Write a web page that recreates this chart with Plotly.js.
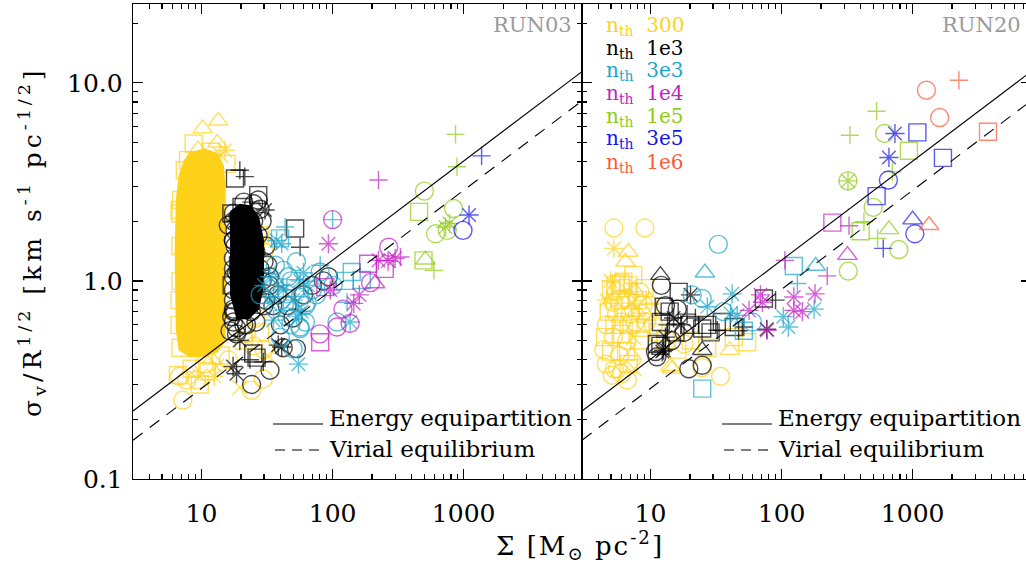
<!DOCTYPE html>
<html><head><meta charset="utf-8">
<script src="https://cdn.plot.ly/plotly-3.0.1.min.js"></script>
<style>html,body{margin:0;padding:0;overflow:hidden;background:#fff}#chart{width:1031px;height:567px}</style>
</head><body><div id="chart"></div><script>
const W = 1031, H = 567;
const FONT = 'DejaVu Serif';

// threshold densities and their colours
const nthLabels = ['300', '1e3', '3e3', '1e4', '1e5', '3e5', '1e6'];
const nthColors = ['#ffd21a', '#000000', '#1aa6cc', '#c41ec4', '#8fcc14', '#1414f0', '#ff5a36'];

// model lines
const lineX = [3, 8000];
const eqY = [0.2205, 11.39];
const virY = [0.157, 8.11];

// ---------- RUN03 (left panel) ----------
// saturated core of the nth=300 cloud (outline of the solid region)
const r03_300_coreX = [8.13, 10.6, 13.3, 14.8, 15.3, 15.3, 13.3, 10.6, 8.13, 6.69, 6.36, 6.24, 6.36, 6.69, 7.32];
const r03_300_coreY = [4.46, 4.68, 4.41, 3.84, 2.87, 0.502, 0.437, 0.412, 0.412, 0.447, 0.564, 1.43, 2.56, 3.42, 4.07];
const r03_300_x = [13.4, 10.2, 8.7, 13.2, 15.1, 9.4, 11.9, 7.9, 7.45, 7.0, 6.8, 15.5, 14.0, 6.9, 6.9, 6.9, 6.8, 6.8, 6.9, 6.6, 7.2, 7.7, 6.8, 9.2, 9.7, 8.4, 9.7, 11.0, 10.5, 12.0, 13.0, 14.0, 16.0, 12.5, 19.6, 24, 29.6, 22, 25, 21, 26, 28, 30, 32, 28, 30, 26];
const r03_300_y = [6.43, 5.89, 4.94, 4.98, 4.57, 4.6, 4.49, 4.07, 3.62, 2.56, 2.28, 3.9, 4.3, 2.19, 1.5, 1.0, 0.8, 0.6, 0.46, 0.335, 0.25, 0.316, 0.33, 0.316, 0.30, 0.36, 0.33, 0.35, 0.38, 0.40, 0.37, 0.42, 0.40, 0.33, 0.29, 0.28, 0.32, 0.54, 0.47, 0.50, 0.65, 0.55, 0.45, 0.42, 1.7, 1.4, 1.5];
const r03_300_s = 'ttst*tssss' + 'ssxsssssss' + 'oooossxsot' + 'xso*xoooos' + 'osoxsos';

// saturated core of the nth=1e3 cloud
const r03_1e3_coreX = [16.5, 19.6, 24, 27.5, 30, 30, 27.5, 23, 18.5, 16.5];
const r03_1e3_coreY = [2.25, 2.45, 2.4, 2.1, 1.6, 0.95, 0.72, 0.64, 0.64, 0.85];
const r03_1e3_x = [18.0, 21.4, 19.6, 27.1, 27.1, 30.5, 16.9, 20.2, 51.8, 56.5, 16.0, 24,
  17.5, 18, 19, 22, 25, 17.5, 18, 21, 24, 27, 17.5, 17.5, 20, 23, 26, 17.5, 18.5, 21, 24, 28, 17.5, 17.5, 20, 22.5, 26, 17.5, 18, 21, 24, 17.5, 18.5, 22, 19, 23, 20, 25, 22, 17, 18, 27, 29, 31, 30, 33, 35, 38,
  16.5, 18.5, 19.6, 17.4, 18.5, 23.4, 26.3, 24.1, 33.3, 38.5, 53, 40.9, 24.8, 29.6, 17.0, 42, 45, 50, 60, 40, 70, 85, 93,
  29, 31, 32, 33, 30, 26, 21, 17.5, 17.5, 17.5, 21, 25, 28];
const r03_1e3_y = [3.29, 3.36, 3.62, 2.71, 2.56, 2.28, 2.19, 2.36, 1.84, 1.48, 1.91, 2.5,
  2.0, 1.8, 2.1, 1.9, 2.0, 1.6, 1.5, 1.7, 1.6, 1.7, 1.3, 1.15, 1.35, 1.3, 1.4, 1.05, 1.1, 1.0, 1.1, 1.15, 0.9, 0.8, 0.9, 0.85, 0.92, 0.72, 0.7, 0.74, 0.7, 0.62, 0.58, 0.6, 1.2, 0.95, 0.8, 1.2, 1.45, 0.95, 2.0, 0.85, 1.0, 0.8, 1.25, 1.05, 0.75, 0.85,
  0.56, 0.54, 0.50, 0.37, 0.34, 0.40, 0.41, 0.30, 0.354, 0.474, 0.455, 0.464, 0.43, 0.39, 0.66, 0.46, 0.75, 0.65, 0.85, 0.6, 0.95, 1.0, 1.05,
  2.0, 1.5, 1.2, 0.95, 0.75, 0.62, 0.6, 0.7, 1.6, 2.2, 2.5, 2.45, 2.3];
const r03_1e3_s = 's++so*sss+o+' + 'o'.repeat(32) + 'ss**+s*+' + 'oooooo' + 'oo***+soo*o*s+ooooooooo' + 'o'.repeat(13);

const r03_3e3_x = [43.4, 39.7, 40.9, 80.4, 80.4, 101, 140, 167, 124, 108, 54.9, 136, 129, 100,
  36.6, 53, 42, 44.8, 56.5, 44.8, 56.5, 35.4, 42, 56.5, 65, 33.3, 35.4, 56.5, 50, 37.4, 33.3, 48, 60, 62, 70, 75, 38, 46, 52, 58, 64, 42, 48, 55, 62, 40, 50, 30, 28];
const r03_3e3_y = [1.87, 1.64, 1.54, 1.11, 1.20, 0.95, 1.11, 1.01, 1.0, 0.62, 0.38, 0.62, 0.78, 2.04,
  1.2, 1.25, 1.13, 0.86, 0.83, 0.66, 0.585, 0.83, 0.71, 1.0, 0.95, 0.77, 0.634, 0.575, 0.455, 1.60, 1.05, 1.0, 1.1, 0.75, 0.9, 0.85, 0.95, 1.05, 0.92, 0.7, 0.78, 0.9, 0.6, 0.68, 0.62, 0.52, 0.8, 0.95, 0.85];
const r03_3e3_s = '+s*o+ossso**++' + 'ooooooo' + '******' + 'oo' + '**' + 'o*' + 'ooo' + '*os*o*o*oo**o';

const r03_1e4_x = [100, 92.9, 224, 187, 224, 265, 300, 268, 329, 211, 96, 145, 80, 108, 136, 80.4, 88, 195, 120, 160, 250];
const r03_1e4_y = [2.04, 1.54, 3.23, 1.22, 1.27, 1.26, 1.30, 1.48, 1.32, 0.97, 0.90, 0.77, 0.54, 0.585, 0.61, 0.49, 0.93, 0.98, 0.72, 0.85, 1.15];
const r03_1e4_s = 'o*+s***o+t**ooossoo*s';

const r03_1e5_x = [867, 889, 502, 457, 838, 728, 780, 611, 750, 494, 511, 593];
const r03_1e5_y = [5.49, 3.77, 2.84, 2.23, 2.32, 1.87, 1.95, 1.73, 1.80, 1.27, 1.28, 1.13];
const r03_1e5_s = '++oso**oost+';

const r03_3e5_x = [1371, 1099, 989];
const r03_3e5_y = [4.28, 2.15, 1.80];
const r03_3e5_s = '+*o';

// ---------- RUN20 (right panel) ----------
const r20_300_x = [5.25, 9.05, 5.25, 6.76, 6.44, 7.38, 5.9, 5.4, 4.95,
  5.0, 5.5, 6.0, 6.8, 7.5, 8.3, 9.0, 4.6, 5.2, 5.8, 6.5, 7.2, 8.0, 8.8, 9.8, 4.8, 5.5, 6.2, 7.0, 7.8, 8.6, 9.5, 4.6, 5.3, 6.0, 6.8, 7.6, 8.4, 9.3, 4.5, 5.2, 5.9, 6.6, 7.4, 8.2, 4.4, 5.0, 5.8, 6.5, 7.2, 4.6, 5.3, 6.0, 6.8, 7.5,
  5.1, 6.65, 5.6, 13, 14.2, 16, 18, 20.2, 27.1, 40.3, 43.2, 54.6, 34.2, 24.8, 14.6, 10.5, 11.5, 6.2];
const r20_300_y = [1.85, 1.85, 1.46, 1.40, 1.25, 1.07, 0.97, 0.95, 1.0,
  0.9, 0.88, 0.92, 0.95, 0.9, 0.88, 0.92, 0.8, 0.78, 0.8, 0.82, 0.78, 0.8, 0.76, 0.8, 0.7, 0.68, 0.7, 0.68, 0.7, 0.68, 0.7, 0.6, 0.6, 0.62, 0.6, 0.62, 0.58, 0.62, 0.52, 0.52, 0.54, 0.5, 0.52, 0.5, 0.45, 0.44, 0.42, 0.44, 0.42, 0.38, 0.36, 0.34, 0.38, 0.36,
  0.334, 0.316, 0.36, 0.5, 0.37, 0.45, 0.48, 0.50, 0.46, 0.447, 0.52, 0.49, 0.33, 0.365, 0.36, 0.6, 0.55, 0.99];
const r20_300_s = 'oo*ttsss*' + 'sosstos' + '*osoxsot' + 'sosotos' + 'osososo' + 'sosoxs' + 'osost' + 'ooosx' + 'ooostsosstssootoss';

const r20_1e3_x = [11.9, 12.1, 16.4, 20.2, 73.3, 90, 11.2, 12.3, 11.2, 24.8, 32.3, 43.2, 24.8, 19.6, 24.8, 77, 12.6, 11.9, 28.7, 47, 12.6, 10.9, 27.1, 13, 14, 15, 16, 13.5, 12, 17, 18, 15.5, 19, 13, 14.5, 20, 22, 35, 51.5];
const r20_1e3_y = [1.07, 0.95, 0.88, 0.85, 0.815, 0.80, 0.48, 0.44, 0.414, 0.575, 0.564, 0.585, 0.447, 0.36, 0.375, 0.57, 0.74, 0.47, 0.55, 0.56, 0.447, 0.44, 0.6, 0.75, 0.7, 0.65, 0.72, 0.6, 0.62, 0.6, 0.55, 0.55, 0.68, 0.52, 0.5, 0.6, 0.65, 0.62, 0.585];
const r20_1e3_s = 'tos*s+s*os' + '+stoo*sss+' + '*osos*o+s*' + 'os+*os+s+';

const r20_3e3_x = [32.9, 26, 124, 182, 132, 20.8, 42, 24.8, 27.1, 45.9, 24.8, 112.6, 103, 40.8, 51.5, 177, 36, 60];
const r20_3e3_y = [1.53, 1.10, 1.19, 1.19, 0.97, 0.85, 0.86, 0.815, 0.74, 0.67, 0.286, 0.585, 0.66, 0.685, 0.56, 0.72, 0.70, 0.62];
const r20_3e3_s = 'otst+o*o**s***s*oo';

const r20_1e4_x = [244, 327, 318, 223, 106, 56.4, 69, 71.4, 77.5, 124, 124, 144, 180];
const r20_1e4_y = [1.97, 1.90, 1.35, 1.06, 1.27, 0.71, 0.85, 0.78, 0.564, 0.83, 0.71, 0.70, 0.86];
const r20_1e4_s = 's+t++********';

const r20_1e5_x = [531, 332, 611, 937, 700, 321, 321, 500, 425, 401, 659, 785, 323, 540];
const r20_1e5_y = [7.19, 5.44, 5.55, 4.54, 3.55, 3.20, 3.20, 2.35, 1.99, 1.78, 1.82, 1.44, 1.12, 1.64];
const r20_1e5_s = '++os+o*o+stoo+';

const r20_3e5_x = [733, 1087, 659, 1703, 653, 531, 1000, 1039, 597];
const r20_3e5_y = [5.55, 5.62, 4.20, 4.18, 3.23, 2.68, 2.04, 1.73, 1.46];
const r20_3e5_s = '*s*sosto+';

const r20_1e6_x = [2254, 1274, 1607, 3757, 1335];
const r20_1e6_y = [10.3, 9.18, 6.68, 5.66, 1.91];
const r20_1e6_s = '+oost';

// ---------- drawing ----------
const SYM = {o: 'circle-open', s: 'square-open', t: 'triangle-up-open', '+': 'cross-thin-open', '*': 'asterisk-open', x: 'x-thin-open'};
const SIZE = {o: 18, s: 17, t: 17, '+': 13, '*': 16, x: 15};

const traces = [];
function addMarkers(x, y, s, color, xa, ya) {
  const c = s.split('');
  traces.push({type: 'scatter', mode: 'markers', x: x, y: y, xaxis: xa, yaxis: ya, hoverinfo: 'skip', showlegend: false,
    marker: {symbol: c.map(k => SYM[k]), size: c.map(k => SIZE[k]), color: color, line: {color: color, width: 1.4}}});
}
function addCore(x, y, color, xa, ya) {
  traces.push({type: 'scatter', mode: 'lines', x: x, y: y, xaxis: xa, yaxis: ya, fill: 'toself', fillcolor: color,
    line: {color: color, width: 0}, hoverinfo: 'skip', showlegend: false});
}
function addLines(xa, ya) {
  traces.push({type: 'scatter', mode: 'lines', x: lineX, y: eqY, xaxis: xa, yaxis: ya, line: {color: '#000', width: 1.1}, hoverinfo: 'skip', showlegend: false});
  traces.push({type: 'scatter', mode: 'lines', x: lineX, y: virY, xaxis: xa, yaxis: ya, line: {color: '#000', width: 1.1, dash: '12px,9px'}, hoverinfo: 'skip', showlegend: false});
}

// left
addCore(r03_300_coreX, r03_300_coreY, nthColors[0], 'x', 'y');
addMarkers(r03_300_x, r03_300_y, r03_300_s, nthColors[0], 'x', 'y');
addCore(r03_1e3_coreX, r03_1e3_coreY, nthColors[1], 'x', 'y');
addMarkers(r03_1e3_x, r03_1e3_y, r03_1e3_s, nthColors[1], 'x', 'y');
addMarkers(r03_3e3_x, r03_3e3_y, r03_3e3_s, nthColors[2], 'x', 'y');
addMarkers(r03_1e4_x, r03_1e4_y, r03_1e4_s, nthColors[3], 'x', 'y');
addMarkers(r03_1e5_x, r03_1e5_y, r03_1e5_s, nthColors[4], 'x', 'y');
addMarkers(r03_3e5_x, r03_3e5_y, r03_3e5_s, nthColors[5], 'x', 'y');
addLines('x', 'y');
// right
addMarkers(r20_300_x, r20_300_y, r20_300_s, nthColors[0], 'x2', 'y2');
addMarkers(r20_1e3_x, r20_1e3_y, r20_1e3_s, nthColors[1], 'x2', 'y2');
addMarkers(r20_3e3_x, r20_3e3_y, r20_3e3_s, nthColors[2], 'x2', 'y2');
addMarkers(r20_1e4_x, r20_1e4_y, r20_1e4_s, nthColors[3], 'x2', 'y2');
addMarkers(r20_1e5_x, r20_1e5_y, r20_1e5_s, nthColors[4], 'x2', 'y2');
addMarkers(r20_3e5_x, r20_3e5_y, r20_3e5_s, nthColors[5], 'x2', 'y2');
addMarkers(r20_1e6_x, r20_1e6_y, r20_1e6_s, nthColors[6], 'x2', 'y2');
addLines('x2', 'y2');

const tickFont = {family: FONT, size: 25, color: '#000'};
const minor = {ticks: 'inside', ticklen: 5, tickwidth: 1.2, tickcolor: '#000', dtick: 'D1', showgrid: false};
function xAxis(d0, d1, anchor) {
  return {type: 'log', domain: [d0 / W, d1 / W], anchor: anchor, range: [Math.log10(3), Math.log10(8000)],
    showline: true, linecolor: '#000', linewidth: 1.3, mirror: 'ticks', ticks: 'inside', ticklen: 10, tickwidth: 1.2, tickcolor: '#000',
    dtick: 1, tickformat: 'd', showgrid: false, zeroline: false, minor: minor, tickfont: tickFont, ticklabelstandoff: 12, fixedrange: true};
}
function yAxis(anchor, labels) {
  return {type: 'log', domain: [88 / H, 563 / H], anchor: anchor, range: [-1, Math.log10(25)],
    showline: true, linecolor: '#000', linewidth: 1.3, mirror: 'ticks', ticks: 'inside', ticklen: 10, tickwidth: 1.2, tickcolor: '#000',
    dtick: 1, tickformat: '.1f', showticklabels: labels, showgrid: false, zeroline: false, minor: minor, tickfont: tickFont, ticklabelstandoff: 4, fixedrange: true};
}

const annotations = [];
const shapes = [];
function ann(text, xp, yp, opts) {
  annotations.push(Object.assign({text: text, xref: 'paper', yref: 'paper', x: xp / W, y: 1 - yp / H, showarrow: false,
    xanchor: 'left', yanchor: 'middle', font: {family: FONT, size: 23, color: '#000'}}, opts || {}));
}
ann('RUN03', 574, 25, {xanchor: 'right', font: {family: FONT, size: 21, color: '#9a9a9a'}});
ann('RUN20', 1023, 25, {xanchor: 'right', font: {family: FONT, size: 21, color: '#9a9a9a'}});
const rowY = [26, 49, 71, 94, 117, 139, 163];
nthLabels.forEach((lab, i) => ann('n<sub>th</sub>\u00a0\u00a0' + lab, 604, rowY[i], {font: {family: FONT, size: 20, color: nthColors[i]}}));
[[273, 327], [722, 776]].forEach(([lx, tx]) => {
  shapes.push({type: 'line', xref: 'paper', yref: 'paper', x0: lx / W, x1: (lx + 50) / W, y0: 1 - 424 / H, y1: 1 - 424 / H, line: {color: '#000', width: 1.1}});
  shapes.push({type: 'line', xref: 'paper', yref: 'paper', x0: (lx + 2) / W, x1: (lx + 50) / W, y0: 1 - 450 / H, y1: 1 - 450 / H, line: {color: '#000', width: 1.1, dash: '10px,7px'}});
  ann('Energy equipartition', tx, 418);
  ann('Virial equilibrium', tx, 449);
});
ann('σ<sub>v</sub>/R<sup>1/2</sup> [km s<sup>-1</sup> pc<sup>-1/2</sup>]', 32, 242, {xanchor: 'center', textangle: -90, font: {family: FONT, size: 25, color: '#000'}});
ann('Σ [M<sub>⊙</sub> pc<sup>-2</sup>]', 580, 545, {xanchor: 'center', font: {family: FONT, size: 26, color: '#000'}});

const layout = {
  width: W, height: H, margin: {l: 0, r: 0, t: 0, b: 0}, paper_bgcolor: '#fff', plot_bgcolor: '#fff', showlegend: false,
  xaxis: xAxis(133, 582, 'y'), yaxis: yAxis('x', true),
  xaxis2: xAxis(582, 1031, 'y2'), yaxis2: yAxis('x2', false),
  annotations: annotations, shapes: shapes
};

Plotly.newPlot('chart', traces, layout, {staticPlot: true}).then(() => {
  document.querySelectorAll('.annotation-text').forEach(t => {
    const s = t.textContent;
    if (s.indexOf('σ') === 0) t.style.letterSpacing = '4px';
    else if (s.indexOf('Σ') === 0) t.style.letterSpacing = '2px';
  });
});
</script></body></html>
